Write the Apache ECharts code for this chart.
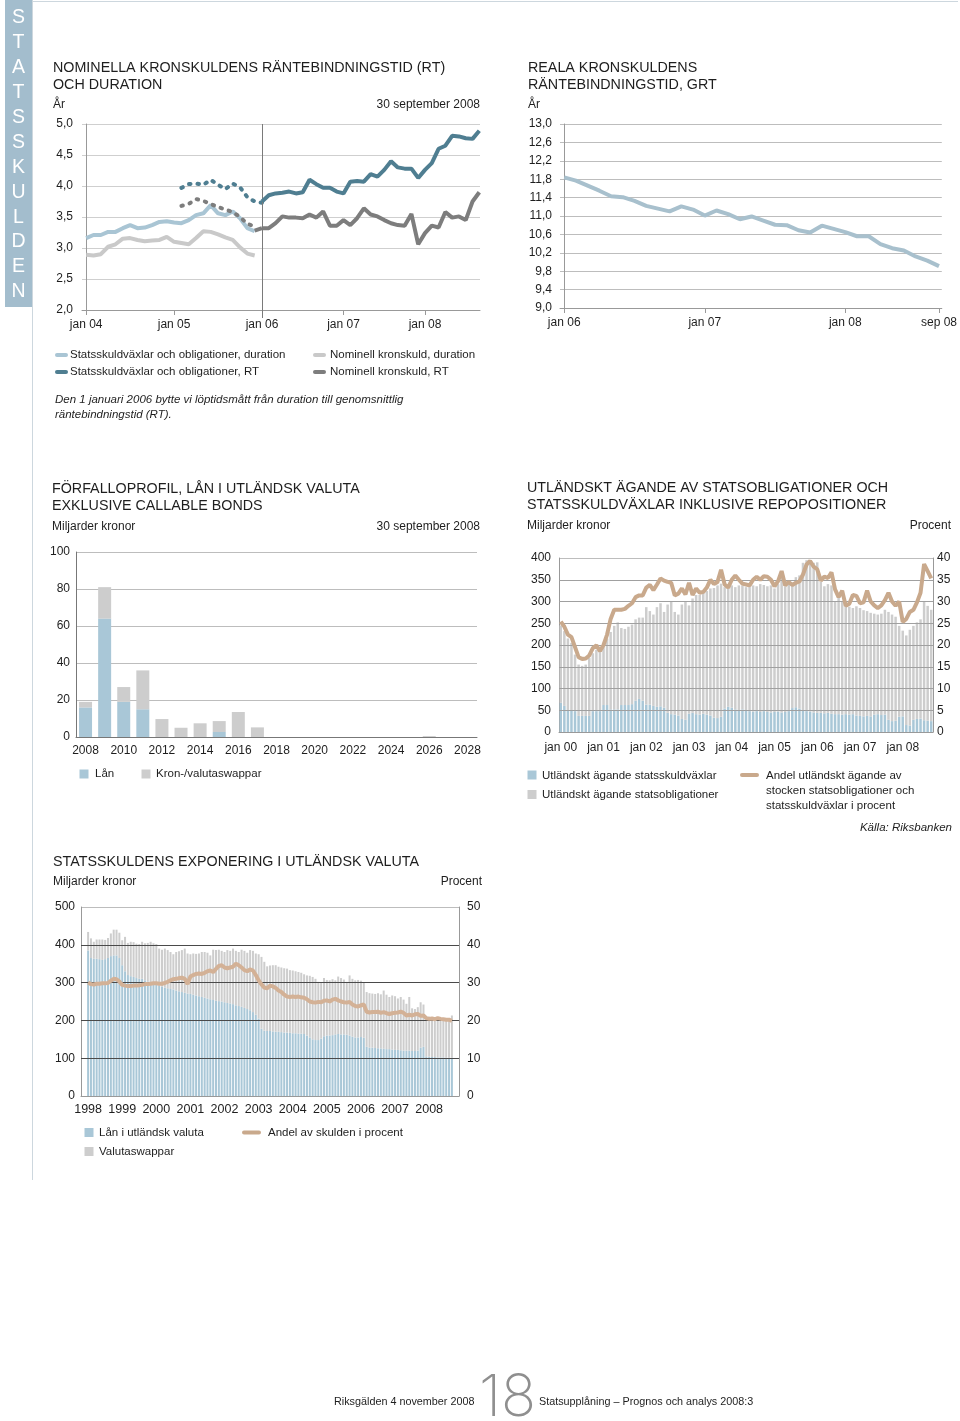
<!DOCTYPE html>
<html><head><meta charset="utf-8">
<script src="https://cdn.jsdelivr.net/npm/echarts@6/dist/echarts.min.js"></script>
<style>html,body{margin:0;padding:0;background:#fff}#c{width:960px;height:1421px}</style>
</head><body><div id="c"></div>
<script>
// ---------- Chart 1: Nominella kronskuldens RT och duration (months from jan 04) ----------
const c1TickPos = [0, 12, 24, 36, 48];
const c1TickLabels = ['jan 04', 'jan 05', 'jan 06', 'jan 07', 'jan 08'];
// duration series, months 0..23
const c1DurStats = [3.16,3.21,3.21,3.26,3.26,3.32,3.37,3.32,3.33,3.37,3.42,3.43,3.41,3.40,3.45,3.53,3.56,3.69,3.56,3.53,3.59,3.48,3.32,3.27];
const c1DurNom = [2.89,2.88,2.90,3.02,3.06,3.15,3.16,3.13,3.11,3.12,3.13,3.18,3.10,3.08,3.06,3.16,3.27,3.26,3.22,3.17,3.13,3.01,2.91,2.88];
// RT back-calculated (dotted), statsskuldväxlar och obligationer: months 13..24
const c1RtStatsBack = [3.97,4.03,4.04,4.02,4.10,4.02,3.95,4.04,3.98,3.82,3.75,3.73];
// RT, statsskuldväxlar och obligationer: months 24..56
const c1RtStats = [3.75,3.85,3.88,3.89,3.91,3.88,3.90,4.10,4.03,3.97,3.97,3.91,3.88,4.07,4.08,4.07,4.19,4.15,4.26,4.40,4.30,4.28,4.28,4.13,4.26,4.37,4.60,4.65,4.81,4.80,4.77,4.76,4.89];
// RT back-calculated (dotted), nominell kronskuld: months 13..23
const c1RtNomBack = [3.68,3.71,3.79,3.76,3.71,3.66,3.62,3.58,3.50,3.39,3.35];
// RT nominell kronskuld: months 23..56
const c1RtNom = [3.28,3.32,3.32,3.40,3.51,3.49,3.49,3.48,3.54,3.49,3.59,3.36,3.36,3.45,3.37,3.48,3.64,3.54,3.51,3.45,3.40,3.37,3.36,3.55,3.06,3.24,3.36,3.33,3.58,3.49,3.51,3.45,3.75,3.90];

// ---------- Chart 2: Reala kronskuldens GRT (months from jan 06) ----------
const c2TickPos = [0, 12, 24, 32];
const c2TickLabels = ['jan 06', 'jan 07', 'jan 08', 'sep 08'];
const c2Grt = [11.84,11.77,11.66,11.55,11.43,11.41,11.33,11.22,11.16,11.10,11.21,11.14,11.01,11.12,11.04,10.93,10.99,10.90,10.81,10.80,10.69,10.64,10.79,10.72,10.65,10.56,10.56,10.39,10.30,10.25,10.12,10.03,9.91];

// ---------- Chart 3: Förfalloprofil ----------
const c3Years = ['2008','2009','2010','2011','2012','2013','2014','2015','2016','2017','2018','2019','2020','2021','2022','2023','2024','2025','2026','2027','2028'];
const c3Lan  = [16,64,19,15,0,0,0,2.7,0,0,0,0,0,0,0,0,0,0,0,0,0];
const c3Swap = [3,17,8,21,9.7,5,7.4,5.9,13.5,5.2,0,0,0,0,0,0,0,0,0.5,0,0];

// ---------- Chart 4: Utländskt ägande (monthly jan 00 .. sep 08) ----------
const c4TickLabels = ['jan 00','jan 01','jan 02','jan 03','jan 04','jan 05','jan 06','jan 07','jan 08'];
const c4Vaxlar = [67,60,50,50,48,37,37,37,37,48,
 48,48,62,62,52,52,52,62,62,62,
 64,72,76,72,63,63,60,58,59,56,
 44,41,40,38,30,28,42,44,41,40,
 42,40,38,33,32,35,54,58,56,52,
 50,52,50,48,47,48,46,48,46,45,
 46,47,45,46,48,55,57,54,50,48,
 47,45,44,44,43,44,42,41,41,40,
 41,40,41,38,37,36,37,36,40,41,
 39,40,28,25,26,35,36,16,15,28,
 30,31,27,26,25];
const c4Oblig = [178,172,165,155,130,118,115,118,133,133,
 141,145,138,153,178,192,200,177,175,180,
 183,187,187,191,224,215,210,229,237,220,
 249,260,236,232,263,272,249,263,274,275,
 280,284,292,298,305,306,279,279,281,281,
 287,285,283,289,290,287,294,290,289,292,
 284,293,322,289,293,288,299,306,339,347,
 345,344,346,301,292,296,295,259,277,260,
 249,248,244,251,248,244,241,238,232,229,
 233,241,248,245,239,209,197,206,220,216,
 222,228,273,264,256];
const c4Andel = [25.4,24.2,22.4,21.8,19.5,17.2,16.8,16.9,17.6,19.3,
 19.9,18.6,20.0,22.4,26.0,28.1,28.1,28.1,28.3,29.0,
 29.6,31.0,31.4,31.4,33.2,33.8,32.6,33.9,35.3,34.8,
 34.5,34.3,31.4,31.8,33.0,31.6,34.3,31.5,33.0,32.0,
 32.2,33.2,35.0,34.0,34.5,37.3,33.9,33.2,35.0,36.0,
 35.0,34.1,33.9,33.7,35.0,35.7,35.0,35.8,35.7,35.0,
 33.5,34.7,37.0,33.7,34.5,33.8,34.3,34.6,36.2,38.5,
 39.3,38.0,37.4,34.8,35.7,35.4,36.7,32.8,31.0,32.5,
 29.0,29.5,31.5,31.3,29.6,29.8,32.5,30.0,29.1,28.5,
 29.1,30.3,32.0,30.0,29.0,30.0,25.3,26.0,27.6,28.1,
 29.8,32.0,38.6,37.0,35.3];

// ---------- Chart 5: Statsskuldens exponering (monthly jan 98 .. sep 08) ----------
const c5TickLabels = ['1998','1999','2000','2001','2002','2003','2004','2005','2006','2007','2008'];
const c5Lan = [385,365,363,363,362,360,362,365,370,372,
 372,365,346,330,320,317,315,312,310,310,
 306,303,300,298,297,293,290,287,285,283,
 282,279,277,275,273,271,270,268,266,264,
 262,260,258,256,254,252,251,250,248,246,
 245,243,240,238,236,233,230,227,222,215,
 205,178,173,172,172,171,170,170,169,168,
 168,167,166,166,165,165,164,160,155,150,
 148,148,152,158,160,160,161,163,164,163,
 163,162,160,157,155,155,156,154,130,128,
 128,127,126,126,125,124,124,123,122,122,
 121,120,120,120,119,119,120,128,130,105,
 104,103,103,102,102,102,101,101,101];
const c5Swap = [49,52,45,51,52,54,51,53,60,68,
 68,67,66,91,85,91,92,91,92,98,
 98,102,108,106,105,97,97,103,101,98,
 93,102,106,111,117,106,105,109,110,113,
 119,121,121,116,133,134,136,134,133,140,
 139,147,144,143,151,151,149,159,162,162,
 170,190,182,171,173,175,176,172,171,170,
 169,166,166,164,163,161,158,159,163,165,
 162,154,148,154,147,146,148,143,152,149,
 145,140,159,153,151,152,149,147,145,144,
 143,143,146,143,154,144,138,143,142,136,
 141,135,124,142,113,111,115,120,112,103,
 106,104,103,103,103,102,104,102,112];
const c5Andel = [30.0,29.6,29.5,29.7,29.7,29.8,29.8,29.9,30.5,31.0,
 30.9,30.3,29.4,29.2,29.1,29.1,29.2,29.2,29.3,29.4,
 29.6,29.6,29.7,29.8,29.8,29.7,29.7,29.9,30.2,30.6,
 30.9,31.0,31.2,31.3,31.0,29.6,31.6,32.0,32.3,32.4,
 32.3,32.6,33.0,33.2,32.8,33.6,34.4,34.6,34.0,33.8,
 34.0,34.2,35.0,34.6,34.0,33.3,33.0,33.5,33.2,32.0,
 30.6,29.5,28.7,28.5,29.2,29.0,28.6,27.9,27.5,26.8,
 26.3,26.2,26.3,26.2,26.3,26.1,26.0,25.6,25.0,24.8,
 24.7,24.9,24.8,25.2,25.3,25.0,25.5,25.7,25.3,25.0,
 24.8,24.7,24.9,24.2,23.8,23.7,24.0,24.2,22.3,22.1,
 22.2,22.2,22.3,22.0,22.2,21.9,21.7,21.9,22.0,22.1,
 22.3,22.0,21.3,21.5,21.3,21.6,21.7,21.2,21.3,20.6,
 20.4,20.5,20.3,20.6,20.4,20.3,20.2,20.2,19.9];

// ---------- build ----------
const FONT = "'Liberation Sans', Arial, sans-serif";
const TXT = '#1e1e1e';
const COL = {
  dblue: '#4f7e91', lblue: '#a9c5d4', dgrey: '#7d7d7d', lgrey: '#c9c9c9',
  barBlue: '#a9c7d7', barGrey: '#cdcdcd', tan: '#c9a98c', strip: '#a3bdcd'
};
const comma1 = v => (Math.round(v * 10) / 10).toFixed(1).replace('.', ',');
const monthNames = ['jan','feb','mar','apr','maj','jun','jul','aug','sep','okt','nov','dec'];
// category lists (months); chart 5 gets two empty padding slots at each end
const c4Cats = [];
for (let i = 0; i < c4Andel.length; i++) c4Cats.push(monthNames[i % 12] + ' ' + String(i / 12 | 0).padStart(2, '0'));
const PAD = 2;
const c5Cats = [];
for (let i = 0; i < PAD; i++) c5Cats.push('');
for (let i = 0; i < c5Andel.length; i++) c5Cats.push(monthNames[i % 12] + ' ' + (1998 + (i / 12 | 0)));
for (let i = 0; i < PAD; i++) c5Cats.push('');
const padArr = a => [null, null].concat(a, [null, null]);

const lab = (extra) => Object.assign({ color: TXT, fontSize: 12, fontFamily: FONT }, extra || {});

function T(x, y, text, size, opt) {
  opt = opt || {};
  return { type: 'text', x: x, y: y, z: 100, silent: true,
    style: { text: text, font: (opt.italic ? 'italic ' : '') + (opt.weight || 'normal') + ' ' + size + 'px ' + (opt.family || FONT),
      fill: opt.color || TXT, textAlign: opt.align || 'left', textVerticalAlign: 'middle' } };
}
function L(x1, y1, x2, y2, color, w, cap) {
  return { type: 'line', z: 100, silent: true, shape: { x1, y1, x2, y2 }, style: { stroke: color, lineWidth: w, lineCap: cap || 'butt' } };
}
function R(x, y, w, h, color) {
  return { type: 'rect', z: 100, silent: true, shape: { x, y, width: w, height: h }, style: { fill: color } };
}

const g = [];
// page decorations
g.push(R(5, 0, 27, 307, COL.strip));
const stripLetters = ['S','T','A','T','S','S','K','U','L','D','E','N'];
stripLetters.forEach((ch, i) => g.push(T(18.5, 18 + i * 24.9, ch, 19.5, { color: '#fff', align: 'center' })));
g.push(L(32.5, 0, 32.5, 1180, '#cdd7de', 1));
g.push(L(32, 1.5, 958, 1.5, '#cdd7de', 1));

// chart 1 texts
g.push(T(53, 68, 'NOMINELLA KRONSKULDENS RÄNTEBINDNINGSTID (RT)', 14.3));
g.push(T(53, 85, 'OCH DURATION', 14.3));
g.push(T(53, 105, 'År', 12));
g.push(T(480, 105, '30 september 2008', 12, { align: 'right' }));
// chart 2 texts
g.push(T(528, 68, 'REALA KRONSKULDENS', 14.3));
g.push(T(528, 85, 'RÄNTEBINDNINGSTID, GRT', 14.3));
g.push(T(528, 105, 'År', 12));
// legend 1
g.push(L(57, 355, 66, 355, COL.lblue, 4, 'round'));
g.push(T(70, 355, 'Statsskuldväxlar och obligationer, duration', 11.5));
g.push(L(57, 372, 66, 372, COL.dblue, 4, 'round'));
g.push(T(70, 372, 'Statsskuldväxlar och obligationer, RT', 11.5));
g.push(L(315, 355, 324, 355, COL.lgrey, 4, 'round'));
g.push(T(330, 355, 'Nominell kronskuld, duration', 11.5));
g.push(L(315, 372, 324, 372, COL.dgrey, 4, 'round'));
g.push(T(330, 372, 'Nominell kronskuld, RT', 11.5));
g.push(T(55, 400, 'Den 1 januari 2006 bytte vi löptidsmått från duration till genomsnittlig', 11.5, { italic: true }));
g.push(T(55, 415, 'räntebindningstid (RT).', 11.5, { italic: true }));
// chart 3 texts
g.push(T(52, 489, 'FÖRFALLOPROFIL, LÅN I UTLÄNDSK VALUTA', 14.3));
g.push(T(52, 506, 'EXKLUSIVE CALLABLE BONDS', 14.3));
g.push(T(52, 527, 'Miljarder kronor', 12));
g.push(T(480, 527, '30 september 2008', 12, { align: 'right' }));
g.push(R(79.5, 769.5, 9, 9, COL.barBlue));
g.push(T(95, 774, 'Lån', 11.5));
g.push(R(141.5, 769.5, 9, 9, COL.barGrey));
g.push(T(156, 774, 'Kron-/valutaswappar', 11.5));
// chart 4 texts
g.push(T(527, 488, 'UTLÄNDSKT ÄGANDE AV STATSOBLIGATIONER OCH', 14.3));
g.push(T(527, 505, 'STATSSKULDVÄXLAR INKLUSIVE REPOPOSITIONER', 14.3));
g.push(T(527, 526, 'Miljarder kronor', 12));
g.push(T(951, 526, 'Procent', 12, { align: 'right' }));
g.push(R(527.5, 770.5, 9, 9, COL.barBlue));
g.push(T(542, 775.5, 'Utländskt ägande statsskuldväxlar', 11.5));
g.push(R(527.5, 790, 9, 9, COL.barGrey));
g.push(T(542, 795, 'Utländskt ägande statsobligationer', 11.5));
g.push(L(742, 775, 757, 775, COL.tan, 4, 'round'));
g.push(T(766, 776, 'Andel utländskt ägande av', 11.5));
g.push(T(766, 791, 'stocken statsobligationer och', 11.5));
g.push(T(766, 806, 'statsskuldväxlar i procent', 11.5));
g.push(T(952, 828, 'Källa: Riksbanken', 11.5, { italic: true, align: 'right' }));
// chart 5 texts
g.push(T(53, 862, 'STATSSKULDENS EXPONERING I UTLÄNDSK VALUTA', 14.3));
g.push(T(53, 882, 'Miljarder kronor', 12));
g.push(T(482, 882, 'Procent', 12, { align: 'right' }));
g.push(R(84.5, 1128, 9, 9, COL.barBlue));
g.push(T(99, 1132.5, 'Lån i utländsk valuta', 11.5));
g.push(R(84.5, 1147, 9, 9, COL.barGrey));
g.push(T(99, 1151.5, 'Valutaswappar', 11.5));
g.push(L(244, 1132.5, 259, 1132.5, COL.tan, 4, 'round'));
g.push(T(268, 1132.5, 'Andel av skulden i procent', 11.5));
// footer
g.push(T(334, 1402, 'Riksgälden 4 november 2008', 10.8));
g.push(T(507.5, 1399, '18', 58, { align: 'center', color: '#8f8f8f', weight: 200, family: "Inter, 'Liberation Sans', sans-serif" }));
g.push(T(539, 1402, 'Statsupplåning – Prognos och analys 2008:3', 10.8));

const thinAxis = (c) => ({ show: true, lineStyle: { color: c || '#999', width: 1 } });
const gridLine = (c) => ({ show: true, lineStyle: { color: c || '#c6c6c6', width: 1 } });
const c1Fmt = v => c1TickLabels[c1TickPos.indexOf(v)];
const noClip = { clip: false, showSymbol: false };

const option = {
  animation: false,
  backgroundColor: '#fff',
  textStyle: { fontFamily: FONT },
  grid: [
    { left: 82, top: 124, width: 180, height: 186 },   // 0: chart 1, jan 04 - jan 06
    { left: 262, top: 124, width: 218, height: 186 },  // 1: chart 1, jan 06 - sep 08
    { left: 560, top: 124, width: 388, height: 184 },  // 2: chart 2
    { left: 76, top: 552, width: 401, height: 185 },   // 3: chart 3
    { left: 559, top: 558, width: 374, height: 174 },  // 4: chart 4
    { left: 81, top: 907, width: 378, height: 189 }    // 5: chart 5
  ],
  xAxis: [
    { type: 'value', gridIndex: 0, min: -0.57, max: 24, splitLine: { show: false },
      axisLine: thinAxis('#999'),
      axisTick: { show: true, customValues: [0, 12, 24], length: 5, lineStyle: { color: '#999' } },
      axisLabel: lab({ customValues: [0, 12, 24], margin: 9, formatter: c1Fmt }) },
    { type: 'value', gridIndex: 1, min: 24, max: 56.1, splitLine: { show: false },
      axisLine: thinAxis('#999'),
      axisTick: { show: true, customValues: [36, 48], length: 5, lineStyle: { color: '#999' } },
      axisLabel: lab({ customValues: [36, 48], margin: 9, formatter: c1Fmt }) },
    { type: 'value', gridIndex: 2, min: -0.36, max: 32.24, splitLine: { show: false },
      axisLine: thinAxis('#999'),
      axisTick: { show: true, customValues: c2TickPos, length: 5, lineStyle: { color: '#999' } },
      axisLabel: lab({ customValues: c2TickPos, margin: 9, formatter: v => c2TickLabels[c2TickPos.indexOf(v)] }) },
    { type: 'category', gridIndex: 3, data: c3Years, boundaryGap: true, splitLine: { show: false },
      axisLine: thinAxis('#777'), axisTick: { show: false },
      axisLabel: lab({ interval: i => i % 2 === 0, margin: 8 }) },
    { type: 'category', gridIndex: 4, data: c4Cats, boundaryGap: true,
      axisLine: thinAxis('#999'), axisTick: { show: false }, splitLine: { show: false },
      axisLabel: lab({ interval: i => i % 12 === 0, margin: 10, formatter: (v, i) => c4TickLabels[i / 12 | 0] }) },
    { type: 'category', gridIndex: 5, data: c5Cats, boundaryGap: true,
      axisLine: thinAxis('#999'), axisTick: { show: false }, splitLine: { show: false },
      axisLabel: lab({ interval: i => i >= PAD && (i - PAD) % 12 === 0 && (i - PAD) / 12 < c5TickLabels.length,
        margin: 7, fontSize: 12.5, formatter: (v, i) => c5TickLabels[(i - PAD) / 12 | 0] }) }
  ],
  yAxis: [
    { type: 'value', gridIndex: 0, min: 2, max: 5, interval: 0.5, axisLine: thinAxis('#999'), axisTick: { show: false },
      splitLine: gridLine('#cfcfcf'), axisLabel: lab({ margin: 9, formatter: comma1 }) },
    { type: 'value', gridIndex: 1, min: 2, max: 5, interval: 0.5, axisLine: { show: false }, axisTick: { show: false },
      splitLine: gridLine('#cfcfcf'), axisLabel: { show: false } },
    { type: 'value', gridIndex: 2, min: 9, max: 13, interval: 0.4, axisLine: thinAxis('#999'), axisTick: { show: false },
      splitLine: gridLine('#bdbdbd'), axisLabel: lab({ margin: 8, formatter: comma1 }) },
    { type: 'value', gridIndex: 3, min: 0, max: 100, interval: 20, axisLine: thinAxis('#777'), axisTick: { show: false },
      splitLine: gridLine('#bdbdbd'), axisLabel: lab({ margin: 6 }) },
    { type: 'value', gridIndex: 4, min: 0, max: 400, interval: 50, axisLine: thinAxis('#999'), axisTick: { show: false },
      splitLine: gridLine('#bdbdbd'), axisLabel: lab({ margin: 8 }) },
    { type: 'value', gridIndex: 4, position: 'right', min: 0, max: 40, interval: 5, axisLine: thinAxis('#999'), axisTick: { show: false },
      splitLine: { show: false }, axisLabel: lab({ margin: 4 }) },
    { type: 'value', gridIndex: 5, min: 0, max: 500, interval: 100, axisLine: thinAxis('#999'), axisTick: { show: false },
      splitLine: gridLine('#bdbdbd'), axisLabel: lab({ margin: 6, padding: [0, 0, 10, 0] }) },
    { type: 'value', gridIndex: 5, position: 'right', min: 0, max: 50, interval: 10, axisLine: thinAxis('#999'), axisTick: { show: false },
      splitLine: { show: false }, axisLabel: lab({ margin: 8 }) }
  ],
  series: [
    // chart 1 (left part, jan 04 - jan 06)
    Object.assign({ type: 'line', xAxisIndex: 0, yAxisIndex: 0, name: 'Nominell kronskuld, duration', data: c1DurNom.map((v, i) => [i, v]),
      lineStyle: { color: COL.lgrey, width: 4 }, z: 2 }, noClip),
    Object.assign({ type: 'line', xAxisIndex: 0, yAxisIndex: 0, name: 'Statsskuldväxlar och obligationer, duration', data: c1DurStats.map((v, i) => [i, v]),
      lineStyle: { color: COL.lblue, width: 4 }, z: 3 }, noClip),
    Object.assign({ type: 'line', xAxisIndex: 0, yAxisIndex: 0, data: c1RtNomBack.map((v, i) => [i + 13, v]),
      lineStyle: { color: COL.dgrey, width: 4, type: [1.5, 7], cap: 'round' }, z: 4 }, noClip),
    Object.assign({ type: 'line', xAxisIndex: 0, yAxisIndex: 0, data: c1RtStatsBack.map((v, i) => [i + 13, v]),
      lineStyle: { color: COL.dblue, width: 4, type: [1.5, 7], cap: 'round' }, z: 4 }, noClip),
    Object.assign({ type: 'line', xAxisIndex: 0, yAxisIndex: 0, data: c1RtNom.map((v, i) => [i + 23, v]).filter(p => p[0] <= 24),
      lineStyle: { color: COL.dgrey, width: 4 }, z: 4 }, noClip),
    // chart 1 (right part, jan 06 - sep 08)
    Object.assign({ type: 'line', xAxisIndex: 1, yAxisIndex: 1, name: 'Nominell kronskuld, RT', data: c1RtNom.map((v, i) => [i + 23, v]).filter(p => p[0] >= 24),
      lineStyle: { color: COL.dgrey, width: 4 }, z: 4,
      markLine: { silent: true, symbol: 'none', label: { show: false }, lineStyle: { color: '#7a7a7a', width: 1, type: 'solid' },
        data: [[{ xAxis: 24, yAxis: 5 }, { xAxis: 24, y: 318 }]] } }, noClip),
    Object.assign({ type: 'line', xAxisIndex: 1, yAxisIndex: 1, name: 'Statsskuldväxlar och obligationer, RT', data: c1RtStats.map((v, i) => [i + 24, v]),
      lineStyle: { color: COL.dblue, width: 4 }, z: 5 }, noClip),
    // chart 2
    { type: 'line', xAxisIndex: 2, yAxisIndex: 2, data: c2Grt.map((v, i) => [i, v]),
      showSymbol: false, clip: false, lineStyle: { color: '#a8c0cd', width: 4 } },
    // chart 3
    { type: 'bar', xAxisIndex: 3, yAxisIndex: 3, stack: 'c3', barWidth: 13, data: c3Lan,
      itemStyle: { color: COL.barBlue } },
    { type: 'bar', xAxisIndex: 3, yAxisIndex: 3, stack: 'c3', barWidth: 13, data: c3Swap,
      itemStyle: { color: COL.barGrey } },
    // chart 4
    { type: 'bar', xAxisIndex: 4, yAxisIndex: 4, stack: 'c4', barCategoryGap: '30%', data: c4Vaxlar,
      itemStyle: { color: COL.barBlue } },
    { type: 'bar', xAxisIndex: 4, yAxisIndex: 4, stack: 'c4', barCategoryGap: '30%', data: c4Oblig,
      itemStyle: { color: COL.barGrey },
      markLine: { silent: true, symbol: 'none', label: { show: false }, lineStyle: { color: '#a0a0a0', width: 1, type: 'solid' },
        data: [50, 100, 150, 200, 250, 300, 350].map(v => ({ yAxis: v })) } },
    { type: 'line', xAxisIndex: 4, yAxisIndex: 5, data: c4Andel, showSymbol: false,
      lineStyle: { color: COL.tan, width: 4 }, z: 6 },
    // chart 5
    { type: 'bar', xAxisIndex: 5, yAxisIndex: 6, stack: 'c5', barWidth: 2, data: padArr(c5Lan),
      itemStyle: { color: COL.barBlue } },
    { type: 'bar', xAxisIndex: 5, yAxisIndex: 6, stack: 'c5', barWidth: 2, data: padArr(c5Swap),
      itemStyle: { color: COL.barGrey },
      markLine: { silent: true, symbol: 'none', label: { show: false }, lineStyle: { color: '#4a4a4a', width: 1, type: 'solid' },
        data: [100, 200, 300, 400].map(v => ({ yAxis: v })) } },
    { type: 'line', xAxisIndex: 5, yAxisIndex: 7, data: padArr(c5Andel), showSymbol: false,
      lineStyle: { color: '#d3b196', width: 4 }, z: 6 }
  ],
  graphic: { elements: g }
};

const chart = echarts.init(document.getElementById('c'), null, { renderer: 'canvas' });
chart.setOption(option);
</script></body></html>
